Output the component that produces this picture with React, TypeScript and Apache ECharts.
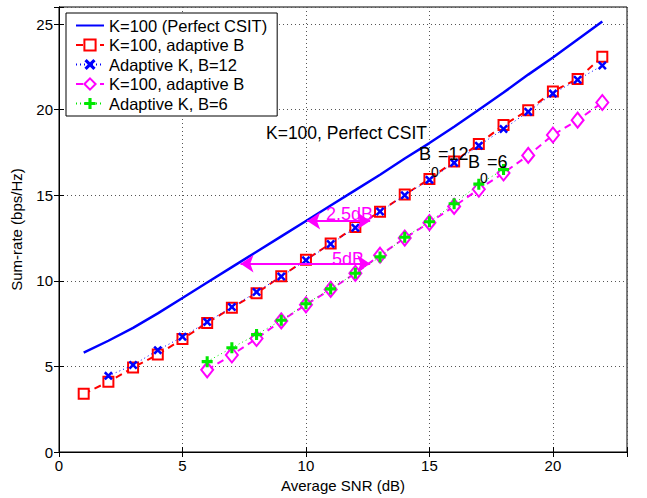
import React, { useEffect, useRef } from "react";
import * as echarts from "echarts";

// ---- data ----
const snrCsit = [1, 2, 3, 4, 5, 6, 7, 8, 9, 10, 11, 12, 13, 14, 15, 16, 17, 18, 19, 20, 21, 22];
const rateCsit = [5.8, 6.5, 7.25, 8.1, 9.0, 9.9, 10.8, 11.7, 12.6, 13.5, 14.4, 15.3, 16.2, 17.15, 18.05, 19.0, 20.0, 21.0, 22.05, 23.05, 24.1, 25.15];

const snrAdaptB12 = [1, 2, 3, 4, 5, 6, 7, 8, 9, 10, 11, 12, 13, 14, 15, 16, 17, 18, 19, 20, 21, 22];
const rateAdaptB12 = [3.4, 4.1, 4.93, 5.7, 6.6, 7.54, 8.43, 9.28, 10.27, 11.23, 12.18, 13.15, 14.04, 15.04, 15.95, 16.98, 18.0, 19.1, 19.97, 21.07, 21.8, 23.1];

const snrAdaptK12 = [2, 3, 4, 5, 6, 7, 8, 9, 10, 11, 12, 13, 14, 15, 16, 17, 18, 19, 20, 21, 22];
const rateAdaptK12 = [4.45, 5.08, 5.95, 6.73, 7.6, 8.47, 9.35, 10.25, 11.2, 12.15, 13.1, 14.05, 15.0, 15.9, 16.9, 17.9, 18.87, 19.88, 20.94, 21.75, 22.58];

const snrAdaptB6 = [6, 7, 8, 9, 10, 11, 12, 13, 14, 15, 16, 17, 18, 19, 20, 21, 22];
const rateAdaptB6 = [4.8, 5.67, 6.63, 7.66, 8.6, 9.5, 10.44, 11.5, 12.5, 13.4, 14.35, 15.35, 16.3, 17.33, 18.52, 19.39, 20.42];

const snrAdaptK6 = [6, 7, 8, 9, 10, 11, 12, 13, 14, 15, 16, 17, 18];
const rateAdaptK6 = [5.28, 6.09, 6.86, 7.7, 8.66, 9.53, 10.44, 11.4, 12.55, 13.45, 14.5, 15.65, 16.5];

const seriesKeys = ["csit", "adaptB12", "adaptK12", "adaptB6", "adaptK6"];
const legendLabels = [
  "K=100 (Perfect CSIT)",
  "K=100, adaptive B",
  "Adaptive K, B=12",
  "K=100, adaptive B",
  "Adaptive K, B=6",
];

const xTicks = [0, 5, 10, 15, 20];
const yTicks = [0, 5, 10, 15, 20, 25];

// arrows: [x0, x1, y]
const arrow25dB = [10.05, 12.6, 13.5];
const arrow5dB = [7.35, 12.6, 11.0];

const pair = (xs: number[], ys: number[]) => xs.map((x, i) => [x, ys[i]]);

const X_SYMBOL = "path://M0,2 L2,0 L5,3 L8,0 L10,2 L7,5 L10,8 L8,10 L5,7 L2,10 L0,8 L3,5 Z";
const PLUS_SYMBOL = "path://M3.6,0 L6.4,0 L6.4,3.6 L10,3.6 L10,6.4 L6.4,6.4 L6.4,10 L3.6,10 L3.6,6.4 L0,6.4 L0,3.6 L3.6,3.6 Z";

const FONT = "Liberation Sans, Arial, Helvetica, sans-serif";
const MAG = "#ff00ff";

export default function App() {
  const ref = useRef<HTMLDivElement>(null);

  useEffect(() => {
    if (!ref.current) return;
    const chart = echarts.init(ref.current, undefined, { renderer: "svg" });

    const labelFmt = (v: number, ticks: number[]) => (ticks.indexOf(v) >= 0 ? String(v) : "");

    const txt = (text: string, x: number, y: number, size: number, color = "#000") => ({
      type: "text",
      x,
      y,
      silent: true,
      z: 100,
      style: {
        text,
        fill: color,
        font: `${size}px ${FONT}`,
        align: "left",
        verticalAlign: "middle",
      },
    });

    const option: any = {
      animation: false,
      backgroundColor: "#fff",
      textStyle: { fontFamily: FONT },
      grid: {
        left: 59,
        right: 20,
        top: 7,
        bottom: 43,
        show: true,
        borderColor: "#000",
        borderWidth: 1,
        backgroundColor: "transparent",
      },
      legend: {
        orient: "vertical",
        left: 66,
        top: 13,
        padding: [4, 10, 4, 9],
        itemWidth: 28,
        itemHeight: 14,
        itemGap: 2.5,
        backgroundColor: "#fff",
        borderColor: "#000",
        borderWidth: 1,
        data: seriesKeys.map((k, i) =>
          i === 0 ? { name: k, itemStyle: { opacity: 0 } } : { name: k }
        ),
        formatter: (name: string) => legendLabels[seriesKeys.indexOf(name)],
        textStyle: { fontSize: 16.5, color: "#000", fontFamily: FONT },
        selectedMode: false,
        z: 50,
      },
      xAxis: [
        {
          type: "value",
          min: 0,
          max: 23,
          interval: 5,
          name: "Average SNR (dB)",
          nameLocation: "middle",
          nameGap: 26,
          nameTextStyle: { fontSize: 15, color: "#000", fontFamily: FONT },
          axisLine: { show: true, lineStyle: { color: "#000", width: 1 } },
          axisTick: { show: true, inside: true, length: 5, lineStyle: { color: "#000" } },
          axisLabel: {
            fontSize: 15,
            color: "#000",
            margin: 6,
            fontFamily: FONT,
            formatter: (v: number) => labelFmt(v, xTicks),
          },
          splitLine: { show: true, lineStyle: { color: "#555", type: [1, 3], width: 1 } },
        },
        {
          type: "value",
          position: "top",
          min: 0,
          max: 23,
          interval: 5,
          axisLine: { show: true, lineStyle: { color: "#000", width: 1 } },
          axisTick: { show: true, inside: true, length: 5, lineStyle: { color: "#000" } },
          axisLabel: { show: false },
          splitLine: { show: false },
        },
      ],
      yAxis: [
        {
          type: "value",
          min: 0,
          max: 26,
          interval: 5,
          name: "Sum-rate (bps/Hz)",
          nameLocation: "middle",
          nameGap: 35,
          nameTextStyle: { fontSize: 15, color: "#000", fontFamily: FONT },
          axisLine: { show: true, lineStyle: { color: "#000", width: 1 } },
          axisTick: { show: true, inside: true, length: 5, lineStyle: { color: "#000" } },
          axisLabel: {
            fontSize: 15,
            color: "#000",
            margin: 6,
            fontFamily: FONT,
            formatter: (v: number) => labelFmt(v, yTicks),
          },
          splitLine: { show: true, lineStyle: { color: "#555", type: [1, 3], width: 1 } },
        },
        {
          type: "value",
          position: "right",
          min: 0,
          max: 26,
          interval: 5,
          axisLine: { show: true, lineStyle: { color: "#000", width: 1 } },
          axisTick: { show: true, inside: true, length: 5, lineStyle: { color: "#000" } },
          axisLabel: { show: false },
          splitLine: { show: false },
        },
      ],
      series: [
        {
          name: "csit",
          type: "line",
          data: pair(snrCsit, rateCsit),
          showSymbol: false,
          symbol: "circle",
          lineStyle: { color: "#0000ff", width: 2.5 },
          itemStyle: { color: "#0000ff" },
          z: 2,
        },
        {
          name: "adaptB12",
          type: "line",
          data: pair(snrAdaptB12, rateAdaptB12),
          symbol: "emptyRect",
          symbolSize: 10,
          lineStyle: { color: "#ff0000", width: 2, type: [7, 5] },
          itemStyle: { color: "#ff0000", borderColor: "#ff0000", borderWidth: 2.5 },
          z: 3,
        },
        {
          name: "adaptK12",
          type: "line",
          data: pair(snrAdaptK12, rateAdaptK12),
          symbol: X_SYMBOL,
          symbolSize: 9,
          lineStyle: { color: "#0000ff", width: 1, type: [1, 3] },
          itemStyle: { color: "#0000ff", borderWidth: 0 },
          z: 4,
        },
        {
          name: "adaptB6",
          type: "line",
          data: pair(snrAdaptB6, rateAdaptB6),
          symbol: "emptyDiamond",
          symbolSize: [12, 15],
          lineStyle: { color: MAG, width: 2, type: [7, 5] },
          itemStyle: { color: MAG, borderColor: MAG, borderWidth: 2.5 },
          z: 3,
          markLine: {
            silent: true,
            symbol: ["arrow", "arrow"],
            symbolSize: 13,
            label: { show: false },
            lineStyle: { color: MAG, width: 2, type: "solid" },
            data: [
              [
                { coord: [arrow25dB[0], arrow25dB[2]] },
                { coord: [arrow25dB[1], arrow25dB[2]] },
              ],
              [
                { coord: [arrow5dB[0], arrow5dB[2]] },
                { coord: [arrow5dB[1], arrow5dB[2]] },
              ],
            ],
          },
        },
        {
          name: "adaptK6",
          type: "line",
          data: pair(snrAdaptK6, rateAdaptK6),
          symbol: PLUS_SYMBOL,
          symbolSize: 11,
          lineStyle: { color: "#00e800", width: 1, type: [1, 3] },
          itemStyle: { color: "#00e800", borderWidth: 0 },
          z: 4,
        },
      ],
      graphic: [
        txt("K=100, Perfect CSIT", 266, 133, 17.5),
        txt("B", 419, 154, 18),
        txt("0", 431, 172, 14),
        txt("=12", 438, 154, 18),
        txt("B", 468, 162, 18),
        txt("0", 480, 178, 14),
        txt("=6", 487, 162, 18),
        txt("2.5dB", 326, 214, 18, MAG),
        txt("5dB", 332, 259, 18, MAG),
      ],
    };

    chart.setOption(option);
    return () => chart.dispose();
  }, []);

  return <div ref={ref} style={{ width: 647, height: 498, position: "absolute", left: 0, top: 0 }} />;
}
